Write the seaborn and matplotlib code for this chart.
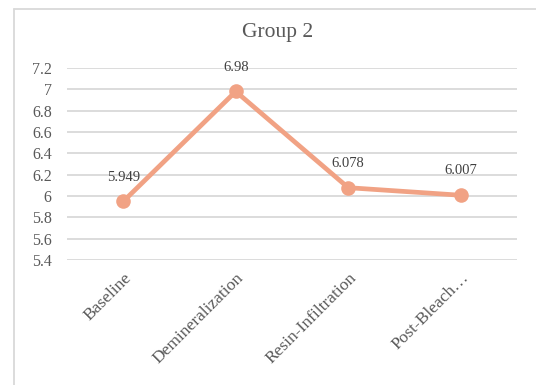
import matplotlib
matplotlib.use("Agg")
import matplotlib.pyplot as plt
import seaborn as sns
import pandas as pd
from matplotlib.lines import Line2D

stages = ["Baseline", "Demineralization", "Resin-Infiltration", "Post-Bleach\u2026"]
values = [5.949, 6.98, 6.078, 6.007]
value_labels = ["5.949", "6.98", "6.078", "6.007"]
y_ticks = [5.4, 5.6, 5.8, 6, 6.2, 6.4, 6.6, 6.8, 7, 7.2]
y_tick_labels = ["5.4", "5.6", "5.8", "6", "6.2", "6.4", "6.6", "6.8", "7", "7.2"]

df = pd.DataFrame({"Stage": stages, "Value": values})

sns.set_theme(style="white")
plt.rcParams['font.family'] = ['Liberation Serif', 'DejaVu Serif']

text_color = "#595959"
line_color = "#F1A284"

fig = plt.figure(figsize=(5.36, 3.85), dpi=100)
ax = fig.add_axes([67 / 536, 1 - 260 / 385, 450 / 536, 192 / 385])

sns.lineplot(data=df, x="Stage", y="Value", sort=False, ax=ax, color=line_color,
             linewidth=3.4, marker="o", markersize=10.5, markeredgewidth=0)

ax.set_xlim(-0.5, 3.5)
ax.set_ylim(5.4, 7.2)
ax.set_yticks(y_ticks)
ax.set_yticklabels(y_tick_labels, fontsize=11.5, color=text_color)
ax.set_xticks(range(len(stages)))
ax.set_xticklabels(stages, rotation=45, ha="right", rotation_mode="anchor",
                   fontsize=12.5, color=text_color)
ax.tick_params(axis="x", length=0, pad=7)
ax.tick_params(axis="y", length=0, pad=11)
ax.set_xlabel("")
ax.set_ylabel("")
ax.grid(axis="y", color="#d9d9d9", linewidth=1.3)
ax.set_axisbelow(True)
for s in ax.spines.values():
    s.set_visible(False)

for i, (v, lab) in enumerate(zip(values, value_labels)):
    ax.annotate(lab, (i, v), xytext=(0, 17.5), textcoords="offset points",
                ha="center", va="center", fontsize=10.5, color="#404040")

fig.text(278 / 536, 1 - 32 / 385, "Group 2", ha="center", va="center",
         fontsize=15.5, color=text_color)

# chart frame (only top and left edges fall inside the image)
x0 = 14 / 536
y0 = 1 - 9 / 385
fig.lines.append(Line2D([x0, 1.0], [y0, y0], transform=fig.transFigure,
                        color="#d9d9d9", linewidth=1.3))
fig.lines.append(Line2D([x0, x0], [0.0, y0], transform=fig.transFigure,
                        color="#d9d9d9", linewidth=1.3))

fig.savefig("out.png", dpi=100, facecolor="white")
